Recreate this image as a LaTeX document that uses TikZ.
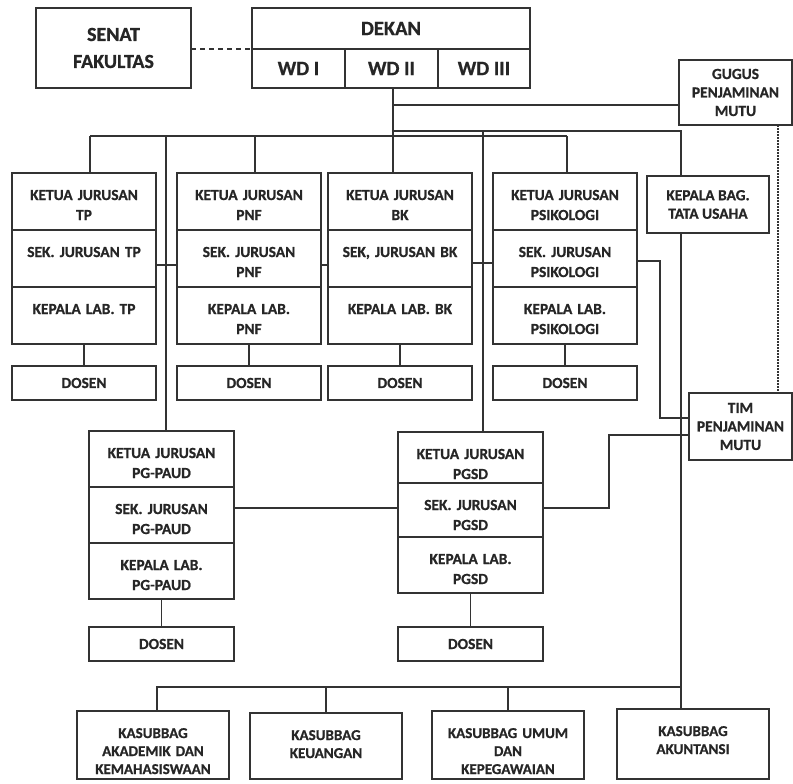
\documentclass[tikz,border=0pt]{standalone}
\usepackage{fontspec}
\setmainfont{Carlito}[BoldFeatures={FakeBold=0.8}]
\usetikzlibrary{positioning}
\tikzset{
    cell/.style = {draw, anchor=north west, outer sep=0pt,
        inner xsep=3pt, inner ysep=0pt,
        text width=138pt, align=center,
        text height=27pt, text depth=30pt},
    plain/.style = {draw, anchor=north west, outer sep=0pt,
        inner sep=0pt, align=center},
    head/.style = {plain, minimum height=39pt,
        font=\bfseries\fontsize{20.5}{24}\selectfont},
    small/.style = {font=\bfseries\fontsize{15.4}{18.5}\selectfont},
    dosen/.style = {draw, outer sep=0pt, inner sep=0pt,
        minimum width=144pt, minimum height=34pt},
    kbox/.style = {cell, text width=146pt, text depth=41pt,
        font=\bfseries\fontsize{15}{18}\selectfont},
    dotline/.style = {draw, line width=1.2pt, dash pattern=on 1.5pt off 1.5pt}
}

\begin{document}
\begin{tikzpicture}[x=1pt, y=-1pt, line width=1.3pt, draw=black!80, text=black!85,
        font=\bfseries\fontsize{15.4}{20}\selectfont]
    \path[use as bounding box, fill=white] (0,0) rectangle (793,784);

    % pimpinan
    \node[plain, minimum width=155pt, minimum height=80pt,
        font=\bfseries\fontsize{20}{27}\selectfont] (senat) at (36,8) {SENAT\\FAKULTAS};
    \node[head, minimum width=278pt, minimum height=41pt] (dekan) at (252,8) {DEKAN};
    \node[head, minimum width=93pt] (wd1) at (252,49) {WD I};
    \node[head, minimum width=93pt] (wd2) at (345,49) {WD II};
    \node[head, minimum width=92pt] (wd3) at (438,49) {WD III};
    \node[plain, small, minimum width=113pt, minimum height=65pt] (gugus) at (679,60) {GUGUS\\PENJAMINAN\\MUTU};

    % jurusan baris atas
    \node[cell] (tpK) at (12,173) {KETUA JURUSAN\\TP};
    \node[cell, below=0pt of tpK] (tpS) {SEK. JURUSAN TP};
    \node[cell, below=0pt of tpS] (tpL) {KEPALA LAB. TP};
    \node[dosen, below=22pt of tpL] (tpD) {DOSEN};

    \node[cell] (pnfK) at (177,173) {KETUA JURUSAN\\PNF};
    \node[cell, below=0pt of pnfK] (pnfS) {SEK. JURUSAN\\PNF};
    \node[cell, below=0pt of pnfS] (pnfL) {KEPALA LAB.\\PNF};
    \node[dosen, below=22pt of pnfL] (pnfD) {DOSEN};

    \node[cell] (bkK) at (328,173) {KETUA JURUSAN\\BK};
    \node[cell, below=0pt of bkK] (bkS) {SEK, JURUSAN BK};
    \node[cell, below=0pt of bkS] (bkL) {KEPALA LAB. BK};
    \node[dosen, below=22pt of bkL] (bkD) {DOSEN};

    \node[cell] (psiK) at (493,173) {KETUA JURUSAN\\PSIKOLOGI};
    \node[cell, below=0pt of psiK] (psiS) {SEK. JURUSAN\\PSIKOLOGI};
    \node[cell, below=0pt of psiS] (psiL) {KEPALA LAB.\\PSIKOLOGI};
    \node[dosen, below=22pt of psiL] (psiD) {DOSEN};

    \node[plain, small, minimum width=122pt, minimum height=57pt] (tu) at (647,176) {KEPALA BAG.\\TATA USAHA};

    % jurusan baris bawah
    \node[cell, text width=139pt, text depth=29pt] (pgpK) at (89,431) {KETUA JURUSAN\\PG-PAUD};
    \node[cell, text width=139pt, text depth=29pt, below=0pt of pgpK] (pgpS) {SEK. JURUSAN\\PG-PAUD};
    \node[cell, text width=139pt, text depth=29pt, below=0pt of pgpS] (pgpL) {KEPALA LAB.\\PG-PAUD};
    \node[dosen, minimum width=145pt, below=28pt of pgpL] (pgpD) {DOSEN};

    \node[cell, text width=139pt, text depth=24pt] (pgsdK) at (398,432) {KETUA JURUSAN\\PGSD};
    \node[cell, text width=139pt, text depth=27pt, below=0pt of pgsdK] (pgsdS) {SEK. JURUSAN\\PGSD};
    \node[cell, text width=139pt, text depth=29pt, below=0pt of pgsdS] (pgsdL) {KEPALA LAB.\\PGSD};
    \node[dosen, minimum width=145pt, below=34pt of pgsdL] (pgsdD) {DOSEN};

    \node[plain, small, minimum width=103pt, minimum height=67pt] (tim) at (689,393) {TIM\\PENJAMINAN\\MUTU};

    % kasubbag
    \node[kbox] (akad) at (77,711) {KASUBBAG\\AKADEMIK DAN\\KEMAHASISWAAN};
    \node[kbox, text depth=39pt] (keu) at (250,713) {KASUBBAG\\KEUANGAN};
    \node[kbox] (umum) at (432,711) {KASUBBAG UMUM\\DAN\\KEPEGAWAIAN};
    \node[kbox, text depth=43pt] (akun) at (617,709) {KASUBBAG\\AKUNTANSI};

    % garis komando
    \coordinate (hub) at (393,136);
    \coordinate (gj) at (393,105);
    \coordinate (tj) at (393,131);
    \coordinate (tux) at (681,131);
    \coordinate (lend) at (90,136);
    \coordinate (pgpj) at (166,136);
    \coordinate (pnfj) at (255,136);
    \coordinate (pgsdj) at (483,131);
    \coordinate (rend) at (567,136);
    \coordinate (bus) at (681,687);
    \coordinate (akj) at (157,687);
    \coordinate (tk) at (660,418);
    \coordinate (tp2) at (609,435);

    \draw[dash pattern=on 5pt off 4pt] (senat.east |- wd1.north) -- (wd1.north west);
    \draw (wd2.south -| hub) -- (hub |- bkK.north);
    \draw (gj) -- (gj -| gugus.west);
    \draw (tj) -- (tux) -- (tux |- tu.north);
    \draw (lend) -- (rend);
    \draw (lend) -- (lend |- tpK.north);
    \draw (pnfj) -- (pnfj |- pnfK.north);
    \draw (rend) -- (rend |- psiK.north);
    \draw (pgpj) -- (pgpj |- pgpK.north);
    \draw (pgsdj) -- (pgsdj |- pgsdK.north);

    \draw ([yshift=-6.5pt]tpS.east) -- ([yshift=-6.5pt]tpS.east -| pnfS.west);
    \draw ([yshift=-6.5pt]pnfS.east) -- ([yshift=-6.5pt]pnfS.east -| bkS.west);
    \draw ([yshift=-4.5pt]bkS.east) -- ([yshift=-4.5pt]bkS.east -| psiS.west);
    \draw ([yshift=-2.5pt]psiS.east) -| (tk) -- (tk -| tim.west);
    \draw ([yshift=7pt]pgpS.east) -- ([yshift=7pt]pgpS.east -| pgsdS.west);
    \draw ([yshift=7pt]pgpS.east -| pgsdS.east) -| (tp2) -- (tp2 -| tim.west);

    \draw (tpL) -- (tpD);
    \draw (pnfL) -- (pnfD);
    \draw (bkL) -- (bkD);
    \draw (psiL) -- (psiD);
    \draw (pgpL) -- (pgpD);
    \draw (pgsdL) -- (pgsdD);

    \draw[dotline] ([xshift=42.5pt]gugus.south) -- ([xshift=42.5pt]gugus.south |- tim.north);

    \draw (tux |- tu.south) -- (bus) -- (akj) -- (akj |- akad.north);
    \draw (bus -| keu.north) -- (keu.north);
    \draw (bus -| umum.north) -- (umum.north);
    \draw (bus) -- (bus |- akun.north);
\end{tikzpicture}
\end{document}
